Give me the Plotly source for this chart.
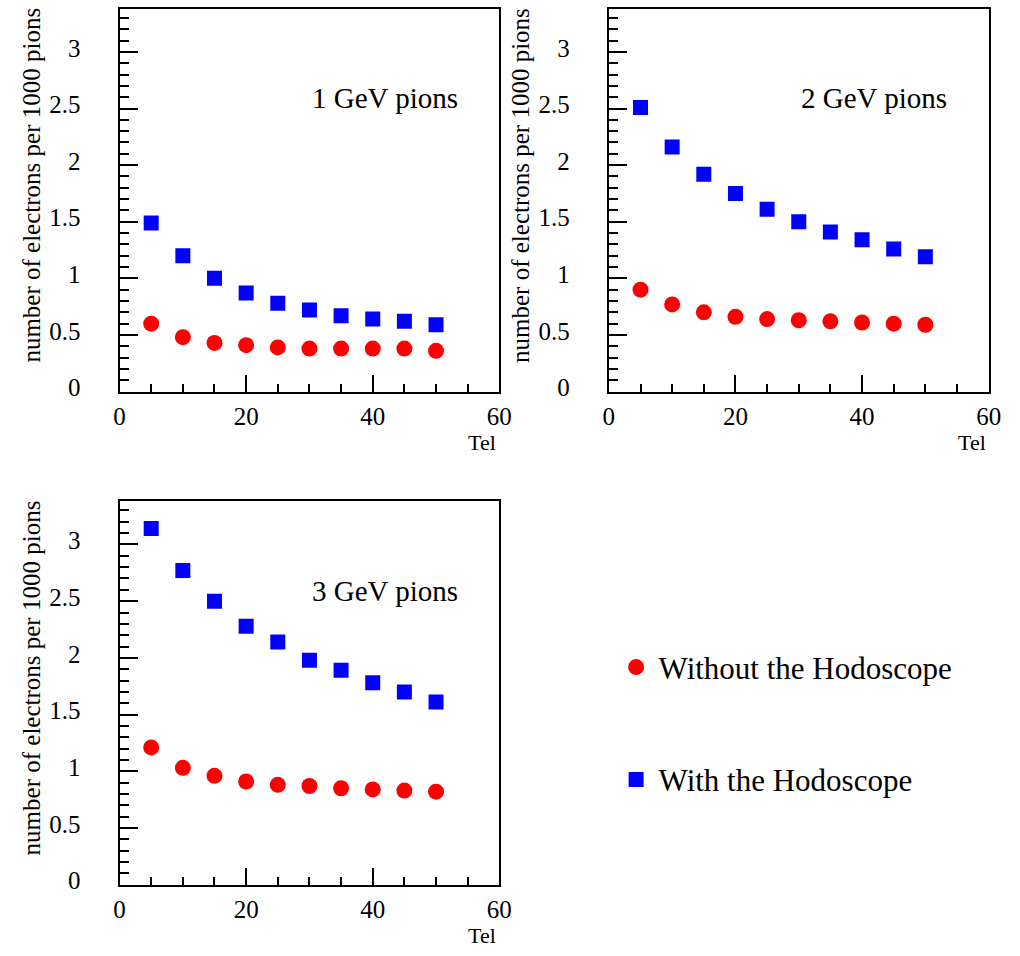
import plotly.graph_objects as go

# Threshold settings (x axis)
tel = [5, 10, 15, 20, 25, 30, 35, 40, 45, 50]

# Electrons per 1000 pions, without / with the hodoscope
without_1gev = [0.60, 0.48, 0.43, 0.41, 0.39, 0.38, 0.38, 0.38, 0.38, 0.36]
with_1gev = [1.49, 1.20, 1.00, 0.87, 0.78, 0.72, 0.67, 0.64, 0.62, 0.59]

without_2gev = [0.90, 0.77, 0.70, 0.66, 0.64, 0.63, 0.62, 0.61, 0.60, 0.59]
with_2gev = [2.51, 2.16, 1.92, 1.75, 1.61, 1.50, 1.41, 1.34, 1.26, 1.19]

without_3gev = [1.21, 1.03, 0.96, 0.91, 0.88, 0.87, 0.85, 0.84, 0.83, 0.82]
with_3gev = [3.14, 2.77, 2.50, 2.28, 2.14, 1.98, 1.89, 1.78, 1.70, 1.61]

panel_labels = ["1 GeV pions", "2 GeV pions", "3 GeV pions"]
series_names = ["Without the Hodoscope", "With the Hodoscope"]

x_tickvals = [0, 20, 40, 60]
x_ticktext = ["0", "20", "40", "60"]
y_tickvals = [0, 0.5, 1, 1.5, 2, 2.5, 3]
y_ticktext = ["0", "0.5", "1", "1.5", "2", "2.5", "3"]

x_title = "Tel"
y_title = "number of electrons per 1000 pions"

FONT = "Liberation Serif"
RED = "#ff0000"
BLUE = "#0000ff"
W, H = 1020, 956

# pixel frame of each panel: (left, right, top, bottom)
frames = [
    (115.7, 502.7, 9.0, 395.7),
    (614.3, 1001.3, 9.0, 395.7),
    (115.7, 502.7, 506.7, 894.0),
]

panels = [
    (without_1gev, with_1gev),
    (without_2gev, with_2gev),
    (without_3gev, with_3gev),
]

fig = go.Figure()

for i, (wo, wi) in enumerate(panels):
    suffix = "" if i == 0 else str(i + 1)
    xa, ya = "x" + suffix, "y" + suffix
    fig.add_trace(go.Scatter(
        x=tel, y=wo, mode="markers", xaxis=xa, yaxis=ya,
        name=series_names[0], legendgroup="without", showlegend=(i == 0),
        marker=dict(symbol="circle", size=16, color=RED, line=dict(width=0)),
    ))
    fig.add_trace(go.Scatter(
        x=tel, y=wi, mode="markers", xaxis=xa, yaxis=ya,
        name=series_names[1], legendgroup="with", showlegend=(i == 0),
        marker=dict(symbol="square", size=15, color=BLUE, line=dict(width=0)),
    ))

layout = dict(
    width=W, height=H, autosize=False,
    margin=dict(l=0, r=0, t=0, b=0),
    paper_bgcolor="white", plot_bgcolor="white",
    font=dict(family=FONT, color="black"),
    legend=dict(
        x=0.607, y=0.323, xanchor="left", yanchor="top",
        font=dict(family=FONT, size=31, color="black"),
        tracegroupgap=69, itemwidth=35,
        bgcolor="rgba(0,0,0,0)", borderwidth=0,
    ),
    annotations=[],
)

for i, (l, r, t, b) in enumerate(frames):
    suffix = "" if i == 0 else str(i + 1)
    xd = [l / W, r / W]
    yd = [1 - b / H, 1 - t / H]
    layout["xaxis" + suffix] = dict(
        domain=xd, anchor="y" + suffix, range=[0, 60],
        showgrid=False, zeroline=False,
        showline=True, linecolor="black", linewidth=2, mirror=True,
        ticks="inside", ticklen=17, tickwidth=2, tickcolor="black",
        tickvals=x_tickvals, ticktext=x_ticktext,
        ticklabelstandoff=1,
        tickfont=dict(family=FONT, size=25, color="black"),
        minor=dict(dtick=5, ticks="inside", ticklen=8, tickwidth=2, tickcolor="black"),
        fixedrange=True,
    )
    layout["yaxis" + suffix] = dict(
        domain=yd, anchor="x" + suffix, range=[0, 3.38],
        showgrid=False, zeroline=False,
        showline=True, linecolor="black", linewidth=2, mirror=True,
        ticks="inside", ticklen=18, tickwidth=2, tickcolor="black",
        tickvals=y_tickvals, ticktext=y_ticktext,
        ticklabelstandoff=32, ticklabelshift=-4,
        tickfont=dict(family=FONT, size=25, color="black"),
        minor=dict(dtick=0.1, ticks="inside", ticklen=9, tickwidth=2, tickcolor="black"),
        fixedrange=True,
    )
    # panel label inside the frame
    layout["annotations"].append(dict(
        text=panel_labels[i], xref="x" + suffix, yref="y" + suffix,
        x=41.9, y=2.59, showarrow=False, xanchor="center", yanchor="middle",
        font=dict(family=FONT, size=29, color="black"),
    ))
    # x axis title, right-aligned under the frame
    layout["annotations"].append(dict(
        text=x_title, xref="paper", yref="paper",
        x=(r - 1) / W, y=1 - (b + 51) / H, showarrow=False,
        xanchor="right", yanchor="middle",
        font=dict(family=FONT, size=22, color="black"),
    ))
    # rotated y axis title
    layout["annotations"].append(dict(
        text=y_title, xref="paper", yref="paper",
        x=(l - 90) / W, y=1 - ((t + b) / 2 - 15) / H, showarrow=False,
        xanchor="center", yanchor="middle", textangle=-90,
        font=dict(family=FONT, size=25, color="black"),
    ))

fig.update_layout(**layout)
fig.write_html("out.html")
